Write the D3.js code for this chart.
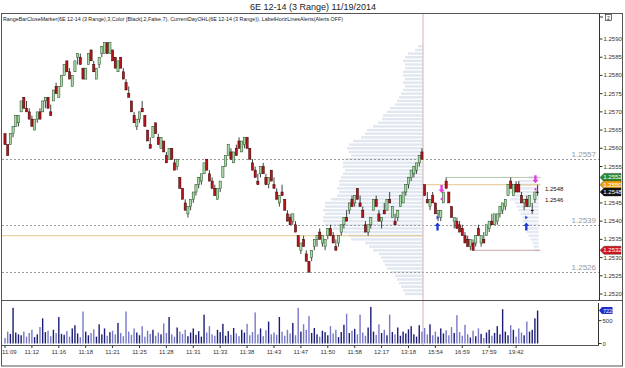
<!DOCTYPE html>
<html>
<head>
<meta charset="utf-8">
<script src="https://cdn.jsdelivr.net/npm/d3@7"></script>
<style>
body { margin: 0; background: #fff; }
text { font-family: "Liberation Sans", Arial, sans-serif; }
</style>
</head>
<body>
<div id="chart"></div>
<script>
// prices are stored as pips above 1.2500
var basePrice = 1.25, pip = 0.0001, rangeTicks = 3;

var barOpen = [
	64,61,61,64,66,67,70,74,71,70, 68,65,68,70,70,73,74,70,73,77,
	74,77,80,84,81,77,81,85,85,82, 79,83,87,83,79,83,86,86,89,86,
	87,85,81,85,81,78,75,73,69,66, 68,71,69,65,61,63,67,63,60,62,
	58,57,60,56,55,
	52,49,45,42,44,46,48,50,51,53, 57,53,51,49,46,49,52,55,58,59,
	56,60,62,59,61,63,60,56,54,51, 53,55,52,50,54,50,48,45,48,46,
	42,41,40,39,36,32,35,31,29,30, 33,35,37,34,33,36,38,36,33,34,
	37,39,41,43,46,45,49,45,43,39, 37,39,43,46,42,40,43,43,46,41,
	40,41,
	44,45,48,50,52,53,54,56,59,
	50,46,44,47,45,42,41,45,51,48, 44,40,40,39,38,36,35,33,34,34,
	38,34,35,36,38,40,39,40,42,43, 44,47,51,47,50,50,47,45,46,44,
	43,46,48
];
var barClose = [
	61,58,64,66,69,69,73,71,70,68, 66,68,70,68,73,74,71,69,76,75,
	77,80,83,81,79,80,84,86,83,79, 82,86,84,81,82,85,88,89,86,89,
	84,82,84,82,79,76,74,70,67,68, 70,70,66,62,60,66,64,61,63,59,
	56,60,57,54,57,
	49,46,43,44,46,48,50,52,53,56, 54,51,49,47,49,51,55,58,61,57,
	59,58,60,62,63,60,57,54,52,50, 55,53,50,52,51,49,46,47,47,43,
	40,39,42,37,33,34,33,29,26,32, 35,36,35,36,35,38,36,34,32,36,
	39,41,40,45,44,47,46,44,41,37, 39,41,46,44,40,41,42,46,45,44,
	39,43,
	47,48,50,52,54,55,56,58,57,
	47,45,46,45,42,43,43,48,49,45, 41,41,38,37,36,34,33,35,32,36,
	36,36,34,39,40,39,42,42,44,45, 46,50,49,50,48,48,45,46,44,47,
	43,48,48
];
var barVolume = [
	120,260,210,780,240,200,180,260,150,230, 300,140,200,360,550,250,280,160,300,230,
	580,210,190,270,150,330,400,220,140,700, 260,180,230,310,150,420,200,330,170,250,
	280,200,450,230,160,700,260,190,330,240, 180,380,150,280,210,300,170,240,200,440,
	230,580,200,150,350,260,210,300,160,240, 330,190,270,150,630,240,380,200,170,300,
	250,430,170,270,190,340,220,160,300,240, 430,180,250,680,200,330,160,290,480,200,
	240,190,580,260,170,300,220,450,180,780, 260,420,300,600,230,340,200,150,280,250,
	180,380,220,300,140,250,410,650,230,280, 320,200,630,240,170,350,800,260,190,420,
	230,300,180,630,250,200,350,170,260,220, 310,380,200,150,400,260,340,200,420,180,
	260,150,330,220,290,180,360,230,620,250, 170,410,200,130,280,160,330,210,120,240,
	300,170,230,380,200,750,260,180,400,300, 150,330,240,180,480,260,300,550,722
];

var timeLabels = ["11:09","11:12","11:16","11:18","11:21","11:25","11:28","11:31","11:33","11:38",
	"11:43","11:47","11:50","11:58","12:17","13:18","15:54","16:59","17:59","19:42"];
var labelEvery = 10;
var priceTicks = [1.2520,1.2525,1.2530,1.2535,1.2540,1.2545,1.2555,1.2560,1.2565,1.2570,1.2575,1.2580,1.2585,1.2590];
var volumeTicks = [0, 500];
var sessionBreak = 155.4;

var keyLevels = [1.2557, 1.2539, 1.2526];
var prevDayOpen = 1.2536;
var dayHigh = 1.2552, dayOpen = 1.2550, dayLow = 1.2532, lastPrice = 1.2548;
var dayHighStart = 164, dayLowStart = 174;
var closeMarkers = ["1.2548", "1.2546"];

// volume profile, one value per pip from profileFrom upward
var profileFrom = 20;
var profileLeft = [18,20,22,24,26,28,32,36,38,40, 42,44,50,54,58,72,74,82,90,98,
	100,100,98,100,98,98,92,86,84,86, 84,84,82,80,78,80,80,78,72,74,
	76,74,70,62,58,56,50,45,41,40, 36,33,28,26,24,22,20,18,20,18,
	20,20,18,18,20,18,15,8,5];
var profileRightFrom = 32;
var profileRight = [4,5,6,8,10,12,12,14,16,16,18,20,22,24,28,26,30,32,28,20,10];

var upArrows = [{ i : 160.8, p : 1.25385 }, { i : 193.8, p : 1.25385 }];
var downArrows = [{ i : 162.3, p : 1.25488 }, { i : 197.2, p : 1.25515 }];

function price(v) {
	return basePrice + v * pip;
}

function drawChart(identifier) {
	var svg = d3.select(identifier).append("svg").attr("width", 625).attr(
			"height", 368);

	var x = d3.scaleLinear().domain([ 0, 198 ]).range([ 5, 537.6 ]);
	var y = d3.scaleLinear().domain([ 1.2520, 1.2590 ]).range([ 294, 39 ]);
	var yv = d3.scaleLinear().domain([ 0, 722 ]).range([ 343.5, 310.5 ]);
	var w = d3.scaleLinear().domain([ 0, 100 ]).range([ 0, 100 ]);

	svg.append("rect").attr("width", 625).attr("height", 368).attr("fill", "#fff");

	// title + indicator line
	svg.append("text").attr("x", 313).attr("y", 10).attr("text-anchor", "middle")
			.attr("font-size", "9px").attr("fill", "#222")
			.text("6E 12-14 (3 Range)  11/19/2014");
	svg.append("text").attr("x", 3).attr("y", 21).attr("font-size", "5.6px")
			.attr("fill", "#222").attr("textLength", 340).attr("lengthAdjust", "spacingAndGlyphs")
			.text("RangeBarCloseMarker(6E 12-14 (3 Range),3,Color [Black],2,False,7), CurrentDayOHL(6E 12-14 (3 Range)), LabelHorizLinesAlerts(Alerts OFF)");

	// volume profiles
	var xs = x(sessionBreak);
	svg.append("g").selectAll("rect").data(profileLeft).enter().append("rect")
			.attr("x", function(d) { return xs - w(d); })
			.attr("y", function(d, i) { return y(price(profileFrom + i)) - 1.2; })
			.attr("width", function(d) { return w(d); })
			.attr("height", 2.4).attr("fill", "#e1e7f1");
	var xr = x(198) + 1;
	svg.append("g").selectAll("rect").data(profileRight).enter().append("rect")
			.attr("x", function(d) { return xr - w(d); })
			.attr("y", function(d, i) { return y(price(profileRightFrom + i)) - 1.2; })
			.attr("width", function(d) { return w(d); })
			.attr("height", 2.4).attr("fill", "#e3e8f2");

	// horizontal lines
	svg.append("line").attr("x1", 2).attr("x2", xs).attr("y1", y(prevDayOpen))
			.attr("y2", y(prevDayOpen)).attr("stroke", "#e6c98e").attr("stroke-width", 1);
	svg.append("line").attr("x1", x(dayHighStart)).attr("x2", xr + 2).attr("y1", y(dayHigh))
			.attr("y2", y(dayHigh)).attr("stroke", "#b4c9ab").attr("stroke-width", 1);
	svg.append("line").attr("x1", xs).attr("x2", xr + 2).attr("y1", y(dayOpen))
			.attr("y2", y(dayOpen)).attr("stroke", "#e3c78c").attr("stroke-width", 1);
	svg.append("line").attr("x1", x(dayLowStart)).attr("x2", xr + 2).attr("y1", y(dayLow))
			.attr("y2", y(dayLow)).attr("stroke", "#c9a6a6").attr("stroke-width", 1);

	keyLevels.forEach(function(p) {
		svg.append("line").attr("x1", 2).attr("x2", 599).attr("y1", Math.round(y(p)) + 0.5)
				.attr("y2", Math.round(y(p)) + 0.5).attr("stroke", "#9a9a9a")
				.attr("stroke-dasharray", "2,2").attr("stroke-width", 1);
		svg.append("text").attr("x", 596).attr("y", y(p) - 2).attr("text-anchor", "end")
				.attr("font-size", "8px").attr("fill", "#999").text(p.toFixed(4));
	});

	// session break
	svg.append("line").attr("x1", xs).attr("x2", xs).attr("y1", 14).attr("y2", 345)
			.attr("stroke", "#d4b2b2").attr("stroke-width", 1);

	// candles
	var bars = barOpen.map(function(o, i) {
		var c = barClose[i], hi, lo;
		if (c > o) { hi = c; lo = c - rangeTicks; }
		else if (c < o) { lo = c; hi = c + rangeTicks; }
		else { hi = c + 2; lo = c - 1; }
		return { i : i, o : o, c : c, h : hi, l : lo, v : barVolume[i] };
	});

	var cg = svg.append("g");
	cg.selectAll("line").data(bars).enter().append("line")
			.attr("x1", function(d) { return x(d.i); })
			.attr("x2", function(d) { return x(d.i); })
			.attr("y1", function(d) { return y(price(d.h)); })
			.attr("y2", function(d) { return y(price(d.l)); })
			.attr("stroke", "#111").attr("stroke-width", 0.8);
	cg.selectAll("rect").data(bars).enter().append("rect")
			.attr("x", function(d) { return x(d.i) - 1.1; })
			.attr("y", function(d) { return y(price(Math.max(d.o, d.c))); })
			.attr("width", 2.2)
			.attr("height", function(d) { return Math.max(0.6, Math.abs(y(price(d.o)) - y(price(d.c)))); })
			.attr("fill", function(d) { return d.c > d.o ? "#a9dba9" : (d.c < d.o ? "#b3161b" : "#111"); })
			.attr("stroke", function(d) { return d.c > d.o ? "#1d4a1d" : "#3a0505"; })
			.attr("stroke-width", 0.5);

	// markers
	upArrows.forEach(function(a) {
		var ax = x(a.i), ay = y(a.p);
		svg.append("path").attr("d", "M" + ax + "," + (ay - 4) + "l3,3.5h-1.8v4.5h-2.4v-4.5h-1.8z")
				.attr("fill", "#1f3ed6");
		svg.append("path").attr("d", "M" + (ax - 1) + "," + (ay - 11) + "l2.5,2l-2.5,2z")
				.attr("fill", "#1f3ed6");
	});
	downArrows.forEach(function(a) {
		var ax = x(a.i), ay = y(a.p);
		svg.append("path").attr("d", "M" + ax + "," + (ay + 4) + "l3,-3.5h-1.8v-4.5h-2.4v4.5h-1.8z")
				.attr("fill", "#e23fe0");
		svg.append("path").attr("d", "M" + (ax + 1) + "," + (ay + 8) + "l-2.5,2l2.5,2z")
				.attr("fill", "#e23fe0");
	});
	closeMarkers.forEach(function(t, k) {
		svg.append("text").attr("x", 545).attr("y", 191 + k * 11).attr("font-size", "6px")
				.attr("fill", "#111").text(t);
	});

	// volume bars
	svg.append("g").selectAll("rect").data(bars).enter().append("rect")
			.attr("x", function(d) { return x(d.i) - 0.7; })
			.attr("y", function(d) { return yv(d.v); })
			.attr("width", 1.4)
			.attr("height", function(d) { return yv(0) - yv(d.v); })
			.attr("fill", function(d) { return d.c >= d.o ? "#1c1c78" : "#7878c8"; });

	// frames
	svg.append("rect").attr("x", 1.5).attr("y", 13.5).attr("width", 621).attr("height", 352.5)
			.attr("fill", "none").attr("stroke", "#555");
	svg.append("line").attr("x1", 1.5).attr("x2", 622.5).attr("y1", 300.5).attr("y2", 300.5).attr("stroke", "#555");
	svg.append("line").attr("x1", 599.5).attr("x2", 599.5).attr("y1", 13.5).attr("y2", 300.5).attr("stroke", "#333");
	svg.append("line").attr("x1", 1.5).attr("x2", 598.5).attr("y1", 345.5).attr("y2", 345.5).attr("stroke", "#555");
	svg.append("line").attr("x1", 598.5).attr("x2", 598.5).attr("y1", 303).attr("y2", 345.5).attr("stroke", "#333");

	// price axis
	var pa = svg.append("g");
	priceTicks.forEach(function(p) {
		pa.append("line").attr("x1", 599.5).attr("x2", 602.5).attr("y1", y(p)).attr("y2", y(p)).attr("stroke", "#333");
		pa.append("text").attr("x", 603.5).attr("y", y(p) + 2).attr("font-size", "6px")
				.attr("fill", "#333").text(p.toFixed(4));
	});
	pa.append("line").attr("x1", 599.5).attr("x2", 603).attr("y1", 17).attr("y2", 17).attr("stroke", "#333");
	pa.append("rect").attr("x", 605.5).attr("y", 14.5).attr("width", 6).attr("height", 6)
			.attr("fill", "#fff").attr("stroke", "#333").attr("stroke-width", 0.7);
	pa.append("text").attr("x", 608.5).attr("y", 19.5).attr("text-anchor", "middle")
			.attr("font-size", "5px").attr("fill", "#222").text("2");

	function tag(yy, fill, label) {
		pa.append("path").attr("d", "M600," + yy + "l4,-4h17v8h-17z").attr("fill", fill)
				.attr("stroke", "#222").attr("stroke-width", 0.4);
		pa.append("text").attr("x", 612.5).attr("y", yy + 2).attr("text-anchor", "middle")
				.attr("font-size", "6px").attr("fill", "#fff").text(label);
	}
	tag(y(dayHigh), "#2a8a2e", dayHigh.toFixed(4));
	tag(y(dayOpen), "#f2a20c", dayOpen.toFixed(4));
	tag(y(lastPrice), "#111", lastPrice.toFixed(4));
	tag(y(dayLow), "#d3151a", dayLow.toFixed(4));

	// volume axis
	volumeTicks.forEach(function(v) {
		pa.append("line").attr("x1", 598.5).attr("x2", 601.5).attr("y1", yv(v)).attr("y2", yv(v)).attr("stroke", "#333");
		pa.append("text").attr("x", 602.5).attr("y", yv(v) + 2).attr("font-size", "6px")
				.attr("fill", "#333").text(v);
	});
	var lastVol = barVolume[barVolume.length - 1];
	pa.append("path").attr("d", "M599," + yv(lastVol) + "l3,-3.5h10.5v7h-10.5z")
			.attr("fill", "#1e2fc4");
	pa.append("text").attr("x", 607.5).attr("y", yv(lastVol) + 2).attr("text-anchor", "middle")
			.attr("font-size", "5.5px").attr("fill", "#fff").text(lastVol);

	// time axis (first label sits just inside the left edge)
	timeLabels.forEach(function(t, k) {
		var tx = x(k * labelEvery);
		pa.append("line").attr("x1", tx).attr("x2", tx).attr("y1", 345.5).attr("y2", 348).attr("stroke", "#333");
		pa.append("text").attr("x", k === 0 ? 2 : tx).attr("y", 354)
				.attr("text-anchor", k === 0 ? "start" : "middle")
				.attr("font-size", "6px").attr("fill", "#333").text(t);
	});
}

drawChart("#chart");
</script>
</body>
</html>
